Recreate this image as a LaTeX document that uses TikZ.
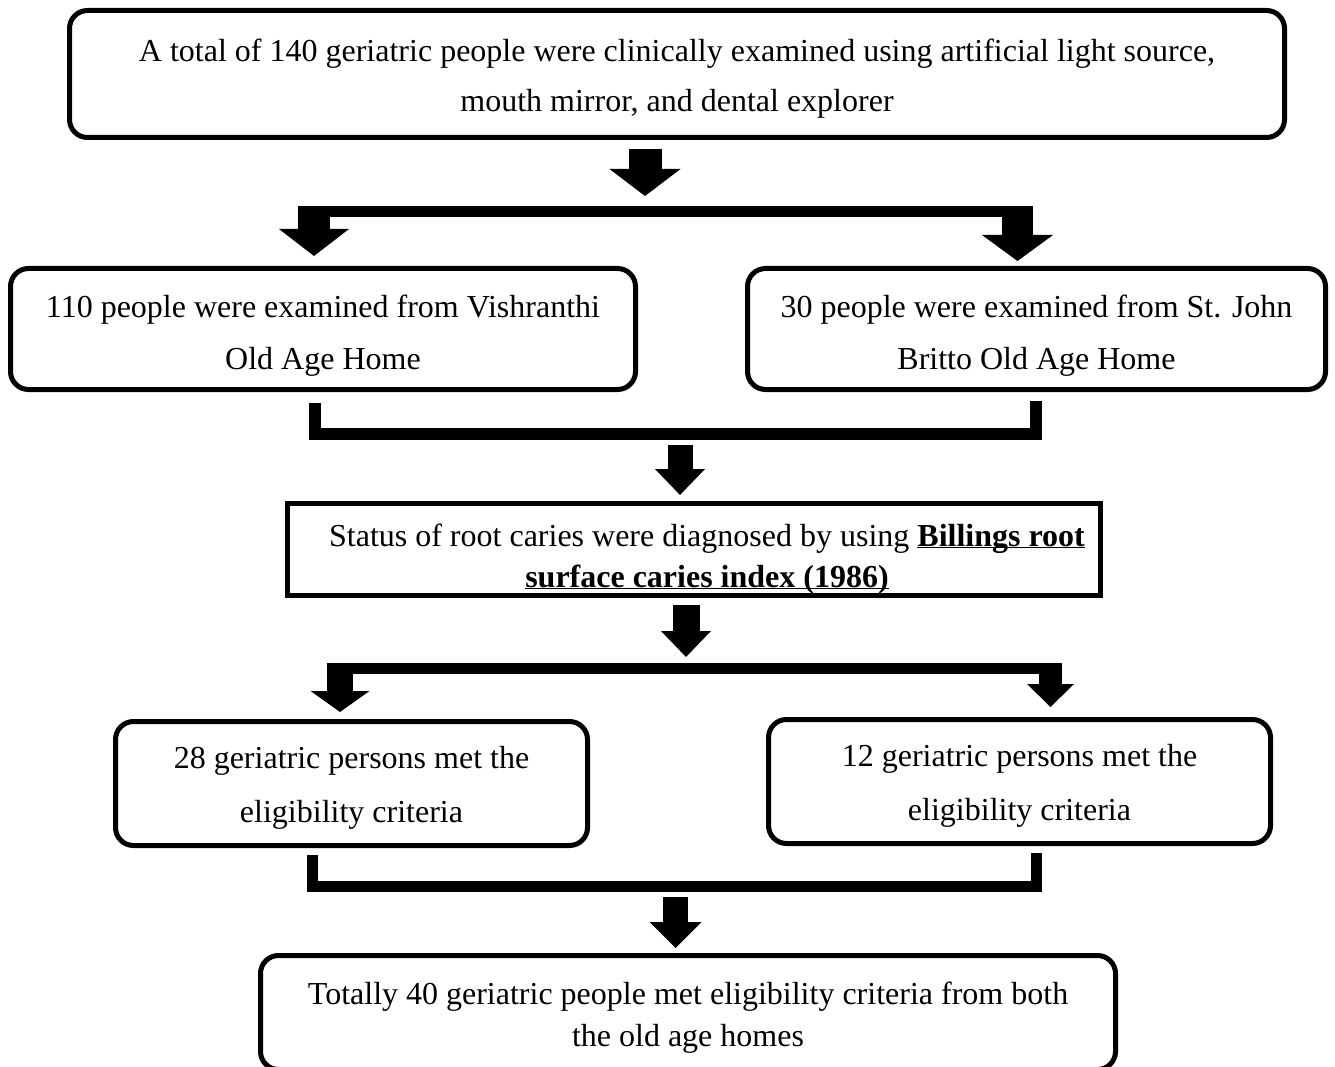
\documentclass[tikz,border=0pt]{standalone}
\usepackage{fontspec}
\setmainfont{Liberation Serif}
\usetikzlibrary{arrows.meta}
\newcommand{\dropby}[1]{\rule{0pt}{#1pt}}
\newcommand{\boldul}[1]{\underline{\smash{\textbf{#1}}}}

\begin{document}
\begin{tikzpicture}[x=1pt,y=-1pt,line join=miter,
    box/.style={draw,line width=5pt,rounded corners=18pt,inner sep=0pt,align=center,font=\fontsize{32}{52}\selectfont},
    squarebox/.style={box,rounded corners=0pt,font=\fontsize{32}{41}\selectfont},
    bar/.style={line width=11pt},
    blockarrow/.style n args={3}{line width=#1pt,-{Triangle[width=#2pt,length=#3pt,line width=0pt]}}]

    \useasboundingbox (0,0) rectangle (1335,1067);

    \node[box,minimum width=1215pt,minimum height=127pt,font=\fontsize{32}{50}\selectfont] (total) at (677,74)
        {\dropby{31}A total of 140 geriatric people were clinically examined using artificial light source,\\mouth mirror, and dental explorer};
    \node[box,minimum width=625pt,minimum height=121pt] (vish) at (323,329)
        {\dropby{35}110 people were examined from Vishranthi\\Old Age Home};
    \node[box,minimum width=578pt,minimum height=121pt] (john) at (1036.5,329)
        {\dropby{35}30 people were examined from St. John\\Britto Old Age Home};
    \node[squarebox,minimum width=813pt,minimum height=92pt,text height=75pt,text depth=0pt] (status) at (694,549.5)
        {\hspace*{26pt}Status of root caries were diagnosed by using \boldul{Billings root}\\\hspace*{26pt}\boldul{surface caries index (1986)}};
    \node[box,minimum width=472pt,minimum height=124pt,font=\fontsize{32}{54}\selectfont] (vishok) at (351.5,783.5)
        {\dropby{31}28 geriatric persons met the\\eligibility criteria};
    \node[box,minimum width=502pt,minimum height=124pt,font=\fontsize{32}{54}\selectfont] (johnok) at (1019.5,781.5)
        {\dropby{31}12 geriatric persons met the\\eligibility criteria};
    \node[box,minimum width=855pt,minimum height=114pt,font=\fontsize{32}{42}\selectfont] (final) at (688,1012.5)
        {\dropby{33}Totally 40 geriatric people met eligibility criteria from both\\the old age homes};

    % split after the first box
    \coordinate (a1) at (645,196);
    \coordinate (s1l) at (298,211.5);
    \coordinate (s1r) at (1033,211.5);
    \coordinate (d1l) at (314,206);
    \coordinate (d1r) at (1017.5,206);
    \draw[blockarrow={33}{71}{27},shorten <=9pt] (total.south -| a1) -- (a1);
    \draw[bar] (s1l) -- (s1r);
    \draw[blockarrow={32}{70}{27},shorten >=10pt] (d1l) -- (d1l |- vish.north);
    \draw[blockarrow={31}{71}{26},shorten >=5pt] (d1r) -- (d1r |- john.north);

    % join into the diagnosis box
    \coordinate (j2l) at (315,434);
    \coordinate (j2r) at (1036,434);
    \coordinate (m2) at (680,434);
    \draw[bar,line width=12pt] ([yshift=-11pt]vish.south -| j2l) -- (j2l) -- (j2r) -- ([yshift=-9pt]john.south -| j2r);
    \draw[blockarrow={25}{50}{26},shorten <=11pt,shorten >=6pt] (m2) -- (m2 |- status.north);

    % second split
    \coordinate (a3) at (686,657);
    \coordinate (s4l) at (327,668.5);
    \coordinate (s4r) at (1062,668.5);
    \coordinate (d4l) at (340,663);
    \coordinate (d4r) at (1050.5,663);
    \draw[blockarrow={27}{50}{26},shorten <=7pt] (status.south -| a3) -- (a3);
    \draw[bar] (s4l) -- (s4r);
    \draw[blockarrow={26}{59}{21},shorten >=7pt] (d4l) -- (d4l |- vishok.north);
    \draw[blockarrow={23}{47}{23},shorten >=10pt] (d4r) -- (d4r |- johnok.north);

    % join into the final box
    \coordinate (j6l) at (312.5,886.5);
    \coordinate (j6r) at (1036,886.5);
    \coordinate (m6) at (675.5,886.5);
    \draw[bar] ([yshift=-7pt]vishok.south -| j6l) -- (j6l) -- (j6r) -- ([yshift=-7pt]johnok.south -| j6r);
    \draw[blockarrow={25}{52}{26},shorten <=10.5pt,shorten >=5pt] (m6) -- (m6 |- final.north);
\end{tikzpicture}
\end{document}
